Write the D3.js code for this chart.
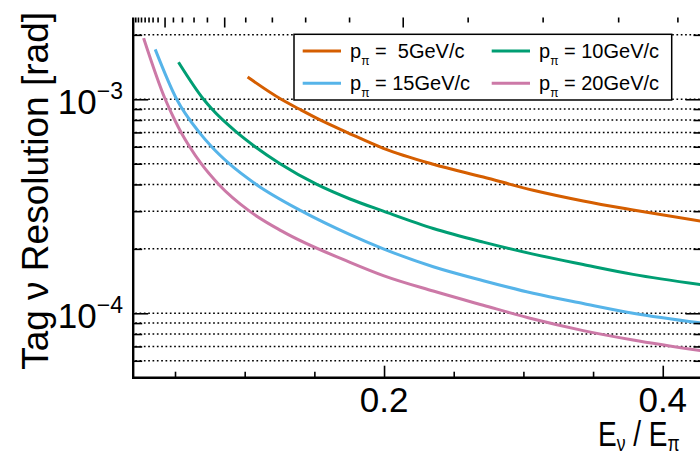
<!DOCTYPE html>
<html>
<head>
<meta charset="utf-8">
<script src="https://cdn.jsdelivr.net/npm/d3@7"></script>
<style>
  html, body { margin: 0; padding: 0; background: #fff; }
  svg { display: block; font-family: "Liberation Sans", Arial, Helvetica, sans-serif; }
  text { white-space: pre; }
</style>
</head>
<body>
<svg id="chart" width="700" height="455"></svg>
<script>
// Tag-neutrino angular resolution versus energy fraction, one curve per pion momentum.

const momenta = [5, 10, 15, 20];           // GeV/c
const seriesColors = ["#d55e00", "#009e73", "#56b4e9", "#cc79a7"];

// E_nu / E_pi sample points and resolution values [rad] for each momentum
const x5  = [0.1021, 0.1262, 0.1391, 0.1548, 0.1733, 0.1995, 0.2353, 0.2712, 0.3070, 0.3429, 0.3787, 0.4278];
const y5  = [1.27e-3, 1.0e-3, 9.0e-4, 7.96e-4, 7.01e-4, 5.9e-4, 4.97e-4, 4.33e-4, 3.76e-4, 3.35e-4, 3.04e-4, 2.69e-4];

const x10 = [0.0525, 0.0705, 0.0765, 0.0944, 0.1075, 0.1254, 0.1518, 0.1756, 0.1995, 0.2353, 0.2712, 0.3070, 0.3429, 0.3787, 0.4278];
const y10 = [1.49e-3, 1.0e-3, 9.0e-4, 7.0e-4, 6.0e-4, 5.0e-4, 4.0e-4, 3.42e-4, 3.0e-4, 2.49e-4, 2.15e-4, 1.89e-4, 1.69e-4, 1.52e-4, 1.36e-4];

const x15 = [0.0358, 0.0512, 0.0674, 0.0763, 0.0889, 0.1083, 0.1410, 0.1756, 0.1995, 0.2353, 0.2712, 0.3070, 0.3429, 0.3787, 0.4278];
const y15 = [1.71e-3, 1.0e-3, 7.0e-4, 6.0e-4, 5.0e-4, 4.0e-4, 3.0e-4, 2.33e-4, 2.0e-4, 1.65e-4, 1.42e-4, 1.24e-4, 1.11e-4, 1.0e-4, 9.0e-5];

const x20 = [0.0275, 0.0430, 0.0498, 0.0544, 0.0605, 0.0688, 0.0814, 0.1035, 0.1267, 0.1756, 0.1995, 0.2353, 0.2712, 0.3070, 0.3429, 0.3787, 0.4278];
const y20 = [1.93e-3, 1.0e-3, 8.0e-4, 7.0e-4, 6.0e-4, 5.0e-4, 4.0e-4, 3.0e-4, 2.42e-4, 1.73e-4, 1.50e-4, 1.27e-4, 1.09e-4, 9.4e-5, 8.3e-5, 7.5e-5, 6.68e-5];

const seriesX = [x5, x10, x15, x20];
const seriesY = [y5, y10, y15, y20];

// Axis ticks
const xMajorTicks = [0.2, 0.4];
const xMinorTicks = [0.05, 0.1, 0.15, 0.25, 0.3, 0.35];
const xTickLabels = ["0.2", "0.4"];
const yMajorTicks = [1e-4, 1e-3];
const yTickExponents = ["\u22124", "\u22123"];
const yMinorTicks = [6e-5, 7e-5, 8e-5, 9e-5, 2e-4, 3e-4, 4e-4, 5e-4, 6e-4, 7e-4, 8e-4, 9e-4, 2e-3];
// Secondary (top) axis tick positions, in E_nu / E_pi units
const topMajorTicks = [0.0425, 0.0853, 0.2134];
const topMinorTicks = [0.0215, 0.0234, 0.0256, 0.0282, 0.0310, 0.0339, 0.0375,
                       0.0485, 0.0550, 0.0633, 0.0729,
                       0.1004, 0.1195, 0.1434, 0.1749,
                       0.2600, 0.3138, 0.3680, 0.4105];

const svg = d3.select("#chart");

const frame = { left: 133.2, right: 701.5, top: 17.5, bottom: 377.7 };
const x = d3.scaleLinear().domain([0.02, 0.4278]).range([frame.left, frame.right]);
const y = d3.scaleLog().domain([5e-5, 2.41e-3]).range([frame.bottom, frame.top]);

// Dotted horizontal grid
const gridVals = yMinorTicks.concat(yMajorTicks);
svg.append("g").selectAll("line").data(gridVals).join("line")
  .attr("x1", frame.left + 2).attr("x2", frame.right)
  .attr("y1", d => y(d)).attr("y2", d => y(d))
  .attr("stroke", "#000").attr("stroke-width", 1.5)
  .attr("stroke-dasharray", "1.7 2.63");

// Curves
const line = d3.line().x(d => x(d[0])).y(d => y(d[1])).curve(d3.curveMonotoneX);
svg.append("clipPath").attr("id", "plotClip").append("rect")
  .attr("x", frame.left).attr("y", frame.top)
  .attr("width", frame.right - frame.left).attr("height", frame.bottom - frame.top);
const curves = svg.append("g").attr("clip-path", "url(#plotClip)");
momenta.forEach((p, i) => {
  const pts = seriesX[i].map((v, j) => [v, seriesY[i][j]]);
  curves.append("path").datum(pts)
    .attr("d", line)
    .attr("fill", "none")
    .attr("stroke", seriesColors[i])
    .attr("stroke-width", 3)
    .attr("stroke-linejoin", "round");
});

// Axes: tick marks point into the frame
const axisW = 2.4;
const gL = svg.append("g").attr("transform", `translate(${frame.left},0)`)
  .call(d3.axisRight(y).tickValues(yMajorTicks).tickSize(15).tickFormat(""));
gL.append("g").call(d3.axisRight(y).tickValues(yMinorTicks).tickSize(9).tickFormat(""));

const gR = svg.append("g").attr("transform", `translate(${frame.right},0)`)
  .call(d3.axisLeft(y).tickValues(yMajorTicks).tickSize(16).tickFormat(""));
gR.append("g").call(d3.axisLeft(y).tickValues(yMinorTicks).tickSize(8).tickFormat(""));

const gB = svg.append("g").attr("transform", `translate(0,${frame.bottom})`)
  .call(d3.axisTop(x).tickValues(xMajorTicks).tickSize(12).tickFormat(""));
gB.append("g").call(d3.axisTop(x).tickValues(xMinorTicks).tickSize(6).tickFormat(""));

const gT = svg.append("g").attr("transform", `translate(0,${frame.top})`)
  .call(d3.axisBottom(x).tickValues(topMajorTicks).tickSize(10).tickFormat(""));
gT.append("g").call(d3.axisBottom(x).tickValues(topMinorTicks).tickSize(5).tickFormat(""));

svg.selectAll(".domain").remove();
svg.selectAll(".tick line").attr("stroke", "#000").attr("stroke-width", 1.6);

// Frame lines: left, bottom and right
svg.append("line").attr("x1", frame.left).attr("x2", frame.left)
  .attr("y1", frame.top).attr("y2", frame.bottom + axisW / 2)
  .attr("stroke", "#000").attr("stroke-width", axisW);
svg.append("line").attr("x1", frame.left - axisW / 2).attr("x2", frame.right)
  .attr("y1", frame.bottom).attr("y2", frame.bottom)
  .attr("stroke", "#000").attr("stroke-width", axisW);
svg.append("line").attr("x1", frame.right).attr("x2", frame.right)
  .attr("y1", frame.top).attr("y2", frame.bottom)
  .attr("stroke", "#000").attr("stroke-width", axisW);

// Tick labels
svg.append("g").selectAll("text").data(xMajorTicks).join("text")
  .attr("x", d => x(d)).attr("y", 411.5)
  .attr("text-anchor", "middle").attr("font-size", 35)
  .text((d, i) => xTickLabels[i]);

yMajorTicks.forEach((v, i) => {
  const t = svg.append("text").attr("x", 123).attr("y", y(v) + 15)
    .attr("text-anchor", "end").attr("font-size", 35);
  t.append("tspan").text("10");
  t.append("tspan").attr("font-size", 23).attr("dy", -15).text(yTickExponents[i]);
});

// Axis titles
svg.append("text")
  .attr("transform", "translate(48,12) rotate(-90)")
  .attr("text-anchor", "end").attr("font-size", 37)
  .text("Tag \u03bd Resolution [rad]");

const xTitle = svg.append("text")
  .attr("transform", "translate(598,446) scale(0.8,1)")
  .attr("font-size", 35);
xTitle.append("tspan").text("E");
xTitle.append("tspan").attr("font-size", 22).attr("dy", 5).text("\u03bd");
xTitle.append("tspan").attr("dy", -5).text(" / E");
xTitle.append("tspan").attr("font-size", 22).attr("dy", 5).text("\u03c0");

// Legend
const legend = svg.append("g");
legend.append("rect")
  .attr("x", 294).attr("y", 34.3).attr("width", 377.7).attr("height", 65.7)
  .attr("fill", "#fff").attr("stroke", "#000").attr("stroke-width", 1.5);
const colX = [302.7, 491.7];
const rowY = [51, 83.3];
momenta.forEach((p, i) => {
  const cx = colX[i % 2], cy = rowY[Math.floor(i / 2)];
  legend.append("line").attr("x1", cx).attr("x2", cx + 38.3)
    .attr("y1", cy).attr("y2", cy)
    .attr("stroke", seriesColors[i]).attr("stroke-width", 3);
  const tx = cx + 47.3, ty = cy + 6.5;
  const t = legend.append("text").attr("x", tx).attr("y", ty).attr("font-size", 20);
  t.append("tspan").text("p");
  t.append("tspan").attr("font-size", 12).attr("dy", 7).text("\u03c0");
  t.append("tspan").attr("dy", -7).text(p < 10 ? " =  " + p + "GeV/c" : " = " + p + "GeV/c");
});
</script>
</body>
</html>
